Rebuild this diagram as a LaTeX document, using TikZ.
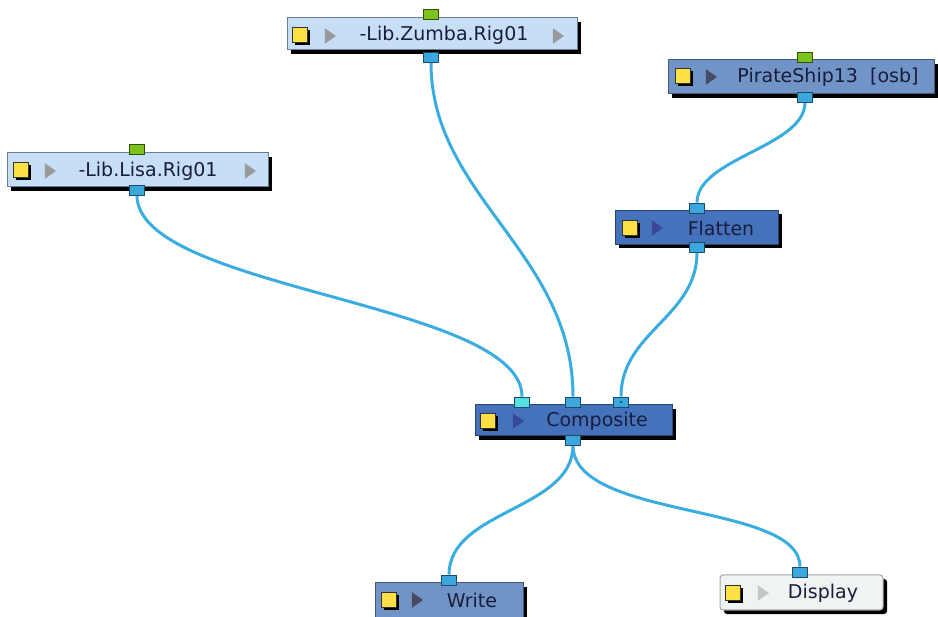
\documentclass[tikz,border=0pt]{standalone}
\usepackage{fontspec}
\setmainfont{DejaVu Sans}
\usetikzlibrary{shapes.geometric, shadows, backgrounds}
\usepackage{xcolor}

\definecolor{libfill}{HTML}{C6DFF7}
\definecolor{midfill}{HTML}{6F94C5}
\definecolor{darkfill}{HTML}{4473BC}
\definecolor{dispfill}{HTML}{EEF4F2}
\definecolor{boxline}{HTML}{6C7C90}
\definecolor{wirecol}{HTML}{3AADE0}
\definecolor{portfill}{HTML}{3AA8DC}
\definecolor{portline}{HTML}{1E4A6A}
\definecolor{cyanport}{HTML}{52E2E2}
\definecolor{greenport}{HTML}{7CC21C}
\definecolor{eyefill}{HTML}{FCE044}
\definecolor{navytext}{HTML}{1A1C3C}
\definecolor{playdark}{HTML}{3A4896}

\begin{document}
\begin{tikzpicture}[x=1pt, y=-1pt,
    box/.style={draw=boxline, line width=1pt, inner sep=0pt,
        drop shadow={shadow xshift=4pt, shadow yshift=-4pt, opacity=1, fill=black}},
    libbox/.style={box, fill=libfill},
    midbox/.style={box, fill=midfill, draw=midfill!60!black},
    darkbox/.style={box, fill=darkfill, draw=darkfill!60!black},
    dispbox/.style={box, fill=dispfill, draw=gray!70, rounded corners=3pt},
    port/.style={draw=portline, line width=0.8pt, fill=portfill, minimum width=15pt, minimum height=10pt, inner sep=0pt},
    inport/.style={port, fill=greenport, draw=greenport!40!black},
    eye/.style={draw=black!80, line width=0.8pt, fill=eyefill, minimum size=15pt, inner sep=0pt,
        drop shadow={shadow xshift=2.5pt, shadow yshift=-2.5pt, opacity=1, fill=black}},
    play/.style={isosceles triangle, isosceles triangle apex angle=70, fill=#1, minimum height=11pt, inner sep=0pt},
    title/.style={font=\fontsize{19}{21}\selectfont, text=navytext, inner sep=0pt},
    wire/.style={draw=wirecol, line width=3pt},
]
\useasboundingbox (0,0) rectangle (938,617);

% Source rigs
\node[libbox, minimum width=290pt, minimum height=32pt] (zumba) at (432,34) {};
\node[eye] (zumba-eye) at (300,35) {};
\node[play=gray!80] (zumba-play) at (329,36) {};
\node[play=gray!80] (zumba-end) at (557,36) {};
\node[title] (zumba-txt) at (444,35) {-Lib.Zumba.Rig01};
\node[inport] (zumba-in) at (431,14) {};
\node[port] (zumba-out) at (431,57) {};

\node[libbox, minimum width=261pt, minimum height=34pt] (lisa) at (137.5,170) {};
\node[eye] (lisa-eye) at (21,170) {};
\node[play=gray!80] (lisa-play) at (49,171) {};
\node[play=gray!80] (lisa-end) at (249,171) {};
\node[title] (lisa-txt) at (148,171) {-Lib.Lisa.Rig01};
\node[inport] (lisa-in) at (137,149) {};
\node[port] (lisa-out) at (137,190) {};

\node[midbox, minimum width=266pt, minimum height=34pt] (ship) at (801,77) {};
\node[eye] (ship-eye) at (683,76) {};
\node[play=navytext!80] (ship-play) at (710,77) {};
\node[title] (ship-txt) at (828,77) {PirateShip13\ \ [osb]};
\node[inport] (ship-in) at (805,57) {};
\node[port] (ship-out) at (805,97) {};

% Effects
\node[darkbox, minimum width=163pt, minimum height=34pt] (flatten) at (696.5,227.5) {};
\node[eye] (flatten-eye) at (630,228) {};
\node[play=playdark] (flatten-play) at (656,228) {};
\node[title] (flatten-txt) at (721,228) {Flatten};
\node[port] (flatten-in) at (697,208) {};
\node[port] (flatten-out) at (697,247) {};

\node[darkbox, minimum width=197pt, minimum height=31pt] (comp) at (573.5,420.5) {};
\node[eye] (comp-eye) at (488,421) {};
\node[play=playdark] (comp-play) at (517,421) {};
\node[title] (comp-txt) at (597,421) {Composite};
\node[port, fill=cyanport] (comp-in1) at (522,402) {};
\node[port] (comp-in2) at (573,402) {};
\node[port] (comp-in3) at (621,402) {};
\node[fill=portline, circle, minimum size=2.5pt, inner sep=0pt] (comp-dot) at (621,402) {};
\node[port] (comp-out) at (573,440) {};

% Outputs
\node[midbox, minimum width=148pt, minimum height=34pt] (write) at (449,600) {};
\node[eye] (write-eye) at (389,600) {};
\node[play=navytext!80] (write-play) at (416,600) {};
\node[title] (write-txt) at (472,600) {Write};
\node[port] (write-in) at (449,580) {};

\node[dispbox, minimum width=163pt, minimum height=35pt] (display) at (801.5,592.5) {};
\node[eye] (display-eye) at (733,593) {};
\node[play=gray!45] (display-play) at (762,593) {};
\node[title] (display-txt) at (823,593) {Display};
\node[port] (display-in) at (800,572) {};

% Cables
\begin{scope}[on background layer]
\draw[wire] (lisa-out) .. controls +(0,100) and +(0,-100) .. (comp-in1);
\draw[wire] (zumba-out) .. controls +(0,140) and +(0,-150) .. (comp-in2);
\draw[wire] (ship-out) .. controls +(0,50) and +(0,-50) .. (flatten-in);
\draw[wire] (flatten-out) .. controls +(0,70) and +(0,-70) .. (comp-in3);
\draw[wire] (comp-out) .. controls +(0,70) and +(0,-70) .. (write-in);
\draw[wire] (comp-out) .. controls +(0,80) and +(0,-70) .. (display-in);
\end{scope}

\end{tikzpicture}
\end{document}
